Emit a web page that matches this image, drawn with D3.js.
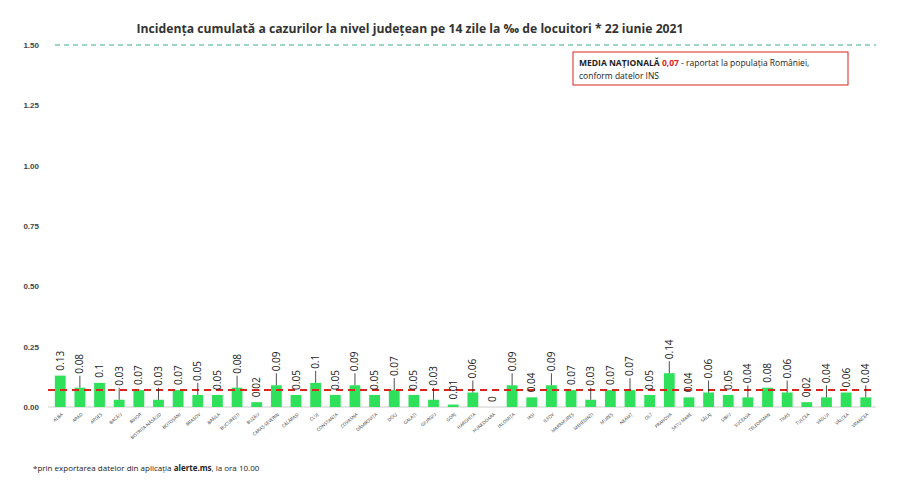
<!DOCTYPE html>
<html>
<head>
<meta charset="utf-8">
<script src="https://cdn.jsdelivr.net/npm/d3@7"></script>
<style>
  body { margin:0; background:#fff; font-family:"Open Sans", "DejaVu Sans", sans-serif; }
</style>
</head>
<body>
<svg id="chart" width="900" height="487"></svg>
<script>
var counties = ["ALBA","ARAD","ARGEȘ","BACĂU","BIHOR","BISTRIȚA-NĂSĂUD","BOTOȘANI","BRAȘOV","BRĂILA","BUCUREȘTI","BUZĂU","CARAȘ-SEVERIN","CĂLĂRAȘI","CLUJ","CONSTANȚA","COVASNA","DÂMBOVIȚA","DOLJ","GALAȚI","GIURGIU","GORJ","HARGHITA","HUNEDOARA","IALOMIȚA","IAȘI","ILFOV","MARAMUREȘ","MEHEDINȚI","MUREȘ","NEAMȚ","OLT","PRAHOVA","SATU MARE","SĂLAJ","SIBIU","SUCEAVA","TELEORMAN","TIMIȘ","TULCEA","VASLUI","VÂLCEA","VRANCEA"];
var values = [0.13,0.08,0.1,0.03,0.07,0.03,0.07,0.05,0.05,0.08,0.02,0.09,0.05,0.1,0.05,0.09,0.05,0.07,0.05,0.03,0.01,0.06,0,0.09,0.04,0.09,0.07,0.03,0.07,0.07,0.05,0.14,0.04,0.06,0.05,0.04,0.08,0.06,0.02,0.04,0.06,0.04];
var yTicks = [0,0.25,0.5,0.75,1,1.25,1.5];
var nationalMean = 0.07;
var maxLine = 1.5;

var svg = d3.select("#chart");
var x = d3.scaleBand().domain(counties).range([46, 880]).padding(0.45);
var y = d3.scaleLinear().domain([0, 1.5]).range([407, 45]);

svg.append("text").attr("x", 410).attr("y", 33).attr("text-anchor", "middle")
  .attr("font-size", 12.2).attr("font-weight", "bold").attr("fill", "#333")
  .text("Incidența cumulată a cazurilor la nivel județean pe 14 zile la ‰ de locuitori *  22 iunie 2021");

var yAxis = svg.append("g").attr("transform", "translate(42,0)")
  .call(d3.axisLeft(y).tickValues(yTicks).tickFormat(d3.format(".2f")).tickSize(0));
yAxis.select(".domain").remove();
yAxis.selectAll("text").attr("font-size", 8).attr("fill", "#444").attr("font-weight", "bold");

svg.append("line").attr("x1", 48).attr("x2", 876).attr("y1", y(0)).attr("y2", y(0)).attr("stroke", "#ccc");
svg.append("line").attr("x1", 55).attr("x2", 876).attr("y1", y(maxLine)).attr("y2", y(maxLine))
  .attr("stroke", "#3cb08a").attr("stroke-width", 1.2).attr("stroke-dasharray", "5,4");

svg.selectAll("rect.bar").data(values).enter().append("rect")
  .attr("x", (d, i) => x(counties[i])).attr("width", x.bandwidth())
  .attr("y", d => y(d)).attr("height", d => y(0) - y(d)).attr("fill", "#2ee05a");

svg.append("line").attr("x1", 48).attr("x2", 876).attr("y1", y(nationalMean)).attr("y2", y(nationalMean))
  .attr("stroke", "#d9251d").attr("stroke-width", 2).attr("stroke-dasharray", "7,5");

// labels with leader lines
var lab = svg.selectAll("g.lab").data(values).enter().append("g");
lab.each(function(d, i) {
  var g = d3.select(this);
  var cx = x(counties[i]) + x.bandwidth() / 2;
  var lift = (i % 2 === 1) ? 12 : 3;
  var top = y(d) - lift;
  if (lift > 3) g.append("line").attr("x1", cx).attr("x2", cx).attr("y1", y(d)).attr("y2", top)
    .attr("stroke", "#222").attr("stroke-width", 0.8);
  g.append("text").attr("transform", "translate(" + (cx + 3.5) + "," + (top - 2) + ") rotate(-90)")
    .attr("font-size", 10).attr("fill", "#222").text(d);
});

svg.selectAll("text.cat").data(counties).enter().append("text")
  .attr("transform", d => "translate(" + (x(d) + x.bandwidth() / 2 + 3) + "," + (y(0) + 8) + ") rotate(-40)")
  .attr("text-anchor", "end").attr("font-size", 4.5).attr("fill", "#333").text(d => d);

// legend box
svg.append("rect").attr("x", 573).attr("y", 52).attr("width", 275).attr("height", 33)
  .attr("fill", "#fff").attr("stroke", "#d9251d").attr("stroke-width", 1);
var t = svg.append("text").attr("x", 579).attr("y", 66).attr("font-size", 8.5).attr("fill", "#222");
t.append("tspan").attr("font-weight", "bold").text("MEDIA NAȚIONALĂ ");
t.append("tspan").attr("font-weight", "bold").attr("fill", "#d9251d").text("0,07");
t.append("tspan").text(" - raportat la populația României,");
svg.append("text").attr("x", 579).attr("y", 79).attr("font-size", 8.5).attr("fill", "#222").text("conform datelor INS");

var f = svg.append("text").attr("x", 33).attr("y", 471).attr("font-size", 8).attr("fill", "#222");
f.append("tspan").text("*prin exportarea datelor din aplicația ");
f.append("tspan").attr("font-weight", "bold").text("alerte.ms");
f.append("tspan").text(", la ora 10.00");
</script>
</body>
</html>
